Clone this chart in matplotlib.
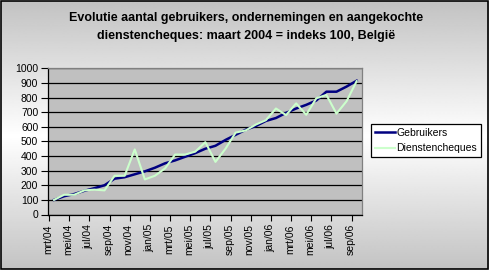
import matplotlib
matplotlib.use('Agg')
import matplotlib.pyplot as plt
import numpy as np
from matplotlib.patches import Rectangle

plt.rcParams['font.family'] = ['Liberation Sans', 'DejaVu Sans']

months = ['mrt/04', 'apr/04', 'mei/04', 'jun/04', 'jul/04', 'aug/04', 'sep/04', 'okt/04',
          'nov/04', 'dec/04', 'jan/05', 'feb/05', 'mrt/05', 'apr/05', 'mei/05', 'jun/05',
          'jul/05', 'aug/05', 'sep/05', 'okt/05', 'nov/05', 'dec/05', 'jan/06', 'feb/06',
          'mrt/06', 'apr/06', 'mei/06', 'jun/06', 'jul/06', 'aug/06', 'sep/06']
gebruikers = [100, 125, 140, 162, 180, 200, 245, 255, 275, 295, 320, 350, 370, 395, 420, 450,
              470, 510, 545, 580, 605, 640, 660, 695, 725, 750, 780, 840, 840, 875, 915]
dienstencheques = [100, 135, 135, 165, 170, 165, 265, 265, 445, 240, 265, 315, 410, 410, 430, 495,
                   360, 450, 560, 575, 615, 645, 725, 680, 760, 682, 795, 818, 690, 775, 912]
series_names = ['Gebruikers', 'Dienstencheques']
title_lines = ['Evolutie aantal gebruikers, ondernemingen en aangekochte',
               'dienstencheques: maart 2004 = indeks 100, België']

W, H = 494, 274
fig = plt.figure(figsize=(W / 100, H / 100), dpi=100)

# background gradient + border
bg = fig.add_axes([0, 0, 1, 1], zorder=-10)
bg.set_xlim(0, W)
bg.set_ylim(H, 0)
bg.axis('off')
yy = np.arange(269)
vals = 1 - 0.24 * np.abs(yy - 135) / 135
img = vals[:, None]
bg.imshow(img, cmap='gray', vmin=0, vmax=1, extent=[1, 488, 269, 1], aspect='auto',
          interpolation='bilinear')
bg.add_patch(Rectangle((1, 1), 487, 268, fill=False, edgecolor='black', lw=1.2))
bg.set_xlim(0, W)
bg.set_ylim(H, 0)

for i, line in enumerate(title_lines):
    fig.text(246 / W, 1 - (18.5 + 17 * i) / H, line, ha='center', va='center',
             fontsize=9, fontweight='bold')

ax = fig.add_axes([48 / W, (H - 214.5) / H, (361.7 - 48) / W, (214.5 - 68.3) / H])
ax.set_facecolor('#c0c0c0')
x = np.arange(len(months))
ax.plot(x, gebruikers, color='#000080', lw=1.8, label=series_names[0], zorder=3)
ax.plot(x, dienstencheques, color='#ccffcc', lw=1.5, label=series_names[1], zorder=4)
ax.set_xlim(-0.5, len(months) - 0.5)
ax.set_ylim(0, 1000)
ax.set_yticks(range(0, 1001, 100))
ax.yaxis.grid(True, color='black', lw=0.9)
ax.set_axisbelow(True)
for s in ['left', 'bottom']:
    ax.spines[s].set_color('black')
    ax.spines[s].set_linewidth(0.9)
for s in ['top', 'right']:
    ax.spines[s].set_color('#808080')
    ax.spines[s].set_linewidth(0.9)

ax.set_xticks([i - 0.6 for i in range(0, len(months), 2)])
ax.set_xticklabels(months[::2], rotation=90, fontsize=7.5)
ax.set_xticks([i - 0.5 for i in range(0, len(months), 2)], minor=True)
ax.tick_params(axis='x', which='major', length=0, pad=7)
ax.tick_params(axis='x', which='minor', length=4, direction='out', width=0.8)
ax.tick_params(axis='y', length=5, direction='out', width=0.8, labelsize=7.5, pad=2)

leg = fig.legend(loc='upper left', bbox_to_anchor=(371 / W, 1 - 124 / H), frameon=True,
                 fancybox=False, edgecolor='black', framealpha=1, fontsize=7.5,
                 handlelength=2.0, handletextpad=0.1, borderpad=0.35, labelspacing=0.55,
                 borderaxespad=0)
leg.get_frame().set_linewidth(0.9)

fig.savefig('out.png', dpi=100)
